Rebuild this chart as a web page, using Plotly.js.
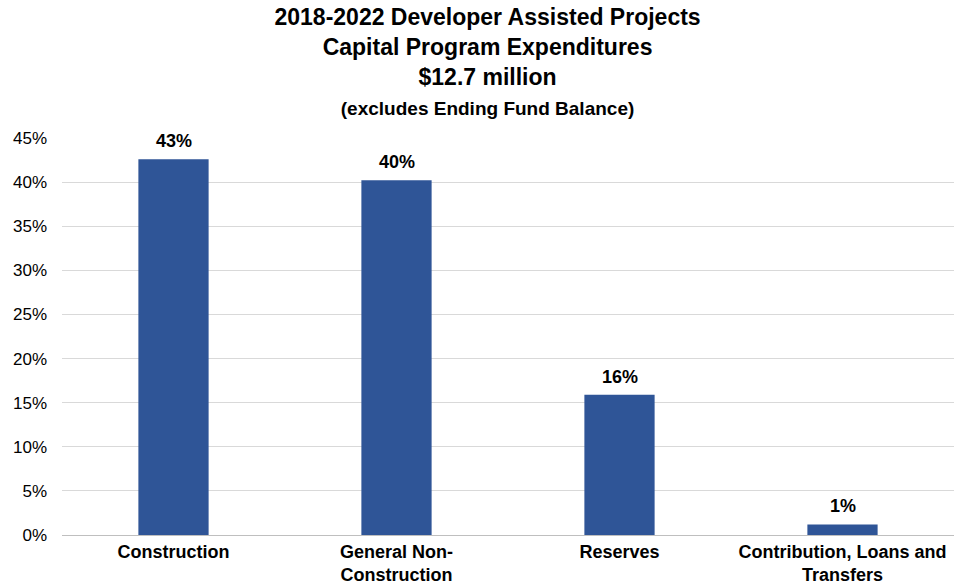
<!DOCTYPE html>
<html>
<head>
<meta charset="utf-8">
<script src="https://cdn.plot.ly/plotly-3.0.1.min.js"></script>
<style>html,body{margin:0;padding:0;background:#fff;}#chart{width:956px;height:585px;}</style>
</head>
<body>
<div id="chart"></div>
<script>
const categories = ["Construction", "General Non-<br>Construction", "Reserves", "Contribution, Loans and<br>Transfers"];
const values = [42.6, 40.2, 15.9, 1.2];
const valueLabels = ["43%", "40%", "16%", "1%"];
const yTickVals = [0, 5, 10, 15, 20, 25, 30, 35, 40, 45];
const yTickText = ["0%", "5%", "10%", "15%", "20%", "25%", "30%", "35%", "40%", "45%"];

const FONT = "Liberation Sans, Arial, sans-serif";

const trace = {
  type: "bar",
  x: categories,
  y: values,
  marker: {color: "#2F5597"},
  width: 0.315,
  hoverinfo: "skip"
};

const annotations = categories.map((c, i) => ({
  x: c, y: values[i], xref: "x", yref: "y",
  text: "<b>" + valueLabels[i] + "</b>",
  showarrow: false, yanchor: "bottom", yshift: 6,
  bgcolor: "#ffffff", borderpad: 1,
  font: {family: FONT, size: 18, color: "#000"}
}));

const layout = {
  width: 956, height: 585,
  margin: {l: 62, r: 2, t: 138, b: 50},
  paper_bgcolor: "#fff", plot_bgcolor: "#fff",
  showlegend: false,
  title: {
    text: "<b>2018-2022 Developer Assisted Projects<br>Capital Program Expenditures<br>$12.7 million<br><span style='font-size:19px'>(excludes Ending Fund Balance)</span></b>",
    x: 0.51, xanchor: "center", xref: "container",
    yref: "container", y: 0.957, yanchor: "top",
    font: {family: FONT, size: 23, color: "#000"}
  },
  xaxis: {
    tickfont: {family: FONT, size: 18, color: "#000"},
    tickprefix: "<b>", ticksuffix: "</b>",
    showline: false, ticks: "", fixedrange: true,
    ticklabelstandoff: 4
  },
  yaxis: {
    range: [0, 45],
    tickvals: yTickVals, ticktext: yTickText,
    tickfont: {family: FONT, size: 17, color: "#000"},
    showgrid: true, gridcolor: "#d9d9d9", gridwidth: 1,
    zeroline: true, zerolinecolor: "#bfbfbf", zerolinewidth: 1,
    ticks: "", ticklen: 0, showline: false,
    ticklabelstandoff: 14
  },
  annotations: annotations
};

Plotly.newPlot("chart", [trace], layout, {displayModeBar: false, staticPlot: true});
</script>
</body>
</html>
